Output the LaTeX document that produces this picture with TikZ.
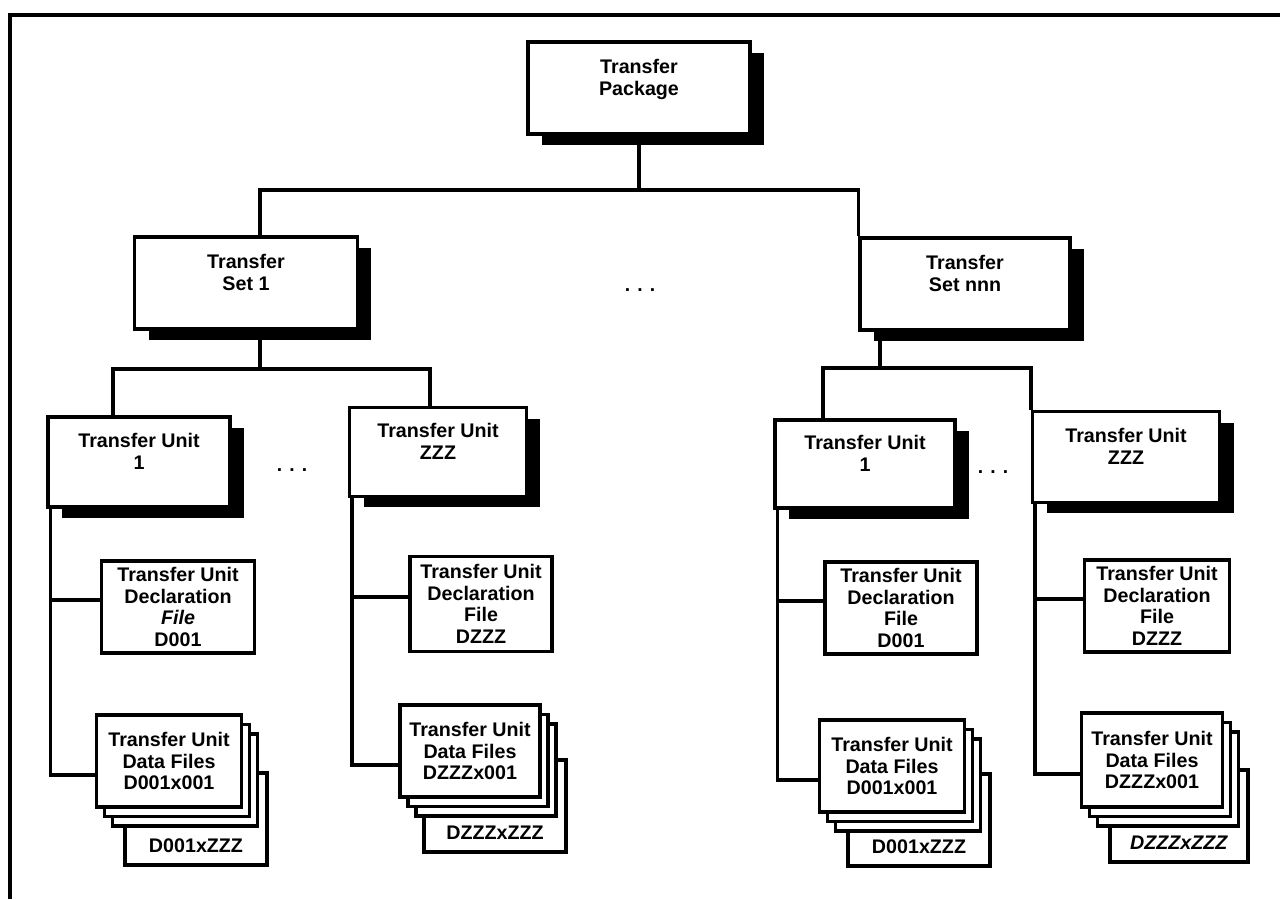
\documentclass[tikz,border=0pt]{standalone}
\usepackage{fontspec}
\setmainfont{Liberation Sans}
\usetikzlibrary{shadows}

\tikzset{
  wire/.style={line width=1.8pt},
  box/.style={draw=black, fill=white, line width=1.8pt, align=center, inner sep=2pt,
    font=\fontsize{11.2}{12.2}\selectfont\bfseries},
  shadowbox/.style={box, minimum height=1.84cm, text depth=0.42cm,
    general shadow={fill=black, shadow xshift=0.28cm, shadow yshift=-0.22cm}},
  declbox/.style={box, minimum height=1.84cm},
  stackbox/.style={box, minimum width=2.9cm, minimum height=1.84cm,
    general shadow={draw=black, fill=white, line width=1.8pt, shadow xshift=0.32cm, shadow yshift=-0.38cm},
    general shadow={draw=black, fill=white, line width=1.8pt, shadow xshift=0.16cm, shadow yshift=-0.19cm}},
  backbox/.style={box, minimum width=2.84cm, minimum height=1.84cm, text height=1.48cm, text depth=0.16cm},
  dots/.style={font=\fontsize{11}{12}\selectfont\bfseries}
}

\begin{document}
\begin{tikzpicture}[x=0.02cm, y=-0.02cm]
\useasboundingbox (0,0) rectangle (1280,899);
% frame
\draw[wire] (10,899) -- (10,15) -- (1280,15);

% package and sets
\node[shadowbox, minimum width=4.44cm] (pkg) at (639,88) {Transfer\\Package};
\node[shadowbox, minimum width=4.46cm] (set1) at (246,283) {Transfer\\Set 1};
\node[shadowbox, minimum width=4.2cm] (setn) at (965,284) {Transfer\\Set nnn};
\node[dots] (dtop) at (640,290) {. . .};

% transfer units
\node[shadowbox, minimum width=3.64cm, minimum height=1.8cm] (uA) at (139,462) {Transfer Unit\\1};
\node[shadowbox, minimum width=3.54cm, minimum height=1.78cm] (uB) at (438,452) {Transfer Unit\\ZZZ};
\node[shadowbox, minimum width=3.6cm, minimum height=1.76cm] (uC) at (865,464) {Transfer Unit\\1};
\node[shadowbox, minimum width=3.74cm, minimum height=1.82cm] (uD) at (1126,457) {Transfer Unit\\ZZZ};
\node[dots] (dA) at (292,470) {. . .};
\node[dots] (dC) at (993,472) {. . .};

% declaration files
\node[declbox, minimum width=3.06cm] (fA) at (178,607) {Transfer Unit\\Declaration\\\textit{File}\\D001};
\node[declbox, minimum width=2.84cm, minimum height=1.9cm] (fB) at (481,604) {Transfer Unit\\Declaration\\File\\DZZZ};
\node[declbox, minimum width=3.04cm] (fC) at (901,608) {Transfer Unit\\Declaration\\File\\D001};
\node[declbox, minimum width=2.9cm] (fD) at (1157,606) {Transfer Unit\\Declaration\\File\\DZZZ};

% data files
\node[backbox] (zA) at (196,819) {D001xZZZ};
\node[stackbox] (xA) at (169,761) {Transfer Unit\\Data Files\\D001x001};
\node[backbox] (zB) at (495,806) {DZZZxZZZ};
\node[stackbox, minimum width=2.8cm] (xB) at (470,751) {Transfer Unit\\Data Files\\DZZZx001};
\node[backbox] (zC) at (919,820) {D001xZZZ};
\node[stackbox] (xC) at (892,766) {Transfer Unit\\Data Files\\D001x001};
\node[backbox, minimum width=2.76cm] (zD) at (1179,816) {\textit{DZZZxZZZ}};
\node[stackbox, minimum width=2.82cm, minimum height=1.88cm] (xD) at (1152,760) {Transfer Unit\\Data Files\\DZZZx001};

% tree lines
\coordinate (j0) at (pkg.south |- 0,190);
\draw[wire] (pkg.south) -- (j0);
\draw[wire] ([xshift=0.28cm]set1.north) |- (j0) -| (setn.north west);

\coordinate (j1) at ([xshift=0.28cm]set1.south |- 0,369);
\draw[wire] ([xshift=0.28cm]set1.south) -- (j1);
\draw[wire] ([xshift=-0.52cm]uA.north) |- (j1) -| ([xshift=-0.16cm]uB.north);

\coordinate (j2) at ([xshift=-1.7cm]setn.south |- 0,368);
\draw[wire] ([xshift=-1.7cm]setn.south) -- (j2);
\draw[wire] ([xshift=-0.84cm]uC.north) |- (j2) -| (uD.north west);

% unit branches
\foreach \u/\f/\x in {uA/fA/xA, uB/fB/xB, uC/fC/xC, uD/fD/xD} {
  \coordinate (v\u) at ([xshift=0.08cm]\u.south west);
  \draw[wire] (v\u) |- ([yshift=-0.28cm]\x.west);
  \draw[wire] ([yshift=0.14cm]\f.west) -- ([yshift=0.14cm]\f.west -| v\u);
}
\end{tikzpicture}
\end{document}
